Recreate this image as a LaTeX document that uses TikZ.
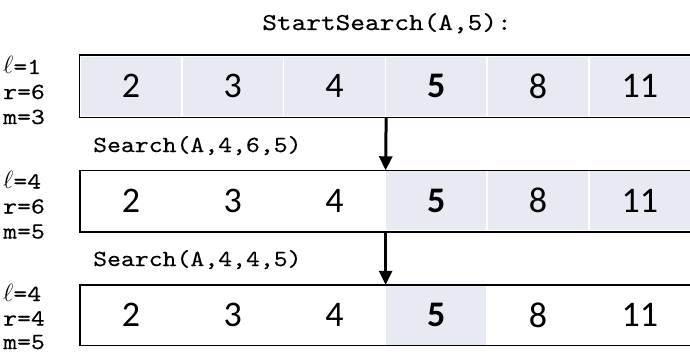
\documentclass[tikz,border=0pt]{standalone}
\usepackage{fontspec}
\setmonofont{lmmono10-regular.otf}[FakeStretch=1.15,FakeBold=0.3]
\newfontfamily\digitfont{Carlito}
\usetikzlibrary{arrows.meta}
\definecolor{shade}{RGB}{232,234,243}
\tikzset{
  cell/.style={minimum width=101.8pt, minimum height=60.5pt, inner sep=0pt, font=\digitfont\fontsize{36}{40}\selectfont},
  shaded/.style={fill=shade, draw=white, line width=1.5pt},
  frame/.style={draw=black, line width=1.5pt},
  down/.style={line width=3pt, -{Triangle[width=13pt,length=14pt]}},
  lab/.style={anchor=base west, inner sep=0pt, font=\ttfamily\fontsize{23}{26}\selectfont},
  call/.style={anchor=base west, inner sep=0pt, font=\ttfamily\fontsize{23}{26}\selectfont},
  title/.style={anchor=base, inner sep=0pt, font=\ttfamily\fontsize{24.3}{28}\selectfont}
}
\begin{document}
\begin{tikzpicture}[x=1pt, y=-1pt]
\useasboundingbox (0,0) rectangle (690,353);
\node[title] (t) at (387,30) {StartSearch(A,5):};
% row 1
\foreach \i/\v in {1/2,2/3,3/4,4/\textbf{5},5/8,6/11}{
  \node[cell, shaded] (a\i) at ({80+101.8*(\i-0.5)},86.25) {\v};
}
\draw[frame] (a1.north west) rectangle (a6.south east);
% row 2
\foreach \i/\v in {1/2,2/3,3/4}{
  \node[cell] (b\i) at ({80+101.8*(\i-0.5)},200.75) {\v};
}
\foreach \i/\v in {4/\textbf{5},5/8,6/11}{
  \node[cell, shaded] (b\i) at ({80+101.8*(\i-0.5)},200.75) {\v};
}
\draw[frame] (b1.north west) rectangle (b6.south east);
% row 3
\foreach \i/\v in {1/2,2/3,3/4,5/8,6/11}{
  \node[cell] (c\i) at ({80+101.8*(\i-0.5)},315.25) {\v};
}
\node[cell, shaded] (c4) at ({80+101.8*3.5},315.25) {\textbf{5}};
\draw[frame] (c1.north west) rectangle (c6.south east);
% arrows
\draw[down] (a3.south east) -- (b3.north east);
\draw[down] (b3.south east) -- (c3.north east);
% calls
\node[call] (s1) at (93,152) {Search(A,4,6,5)};
\node[call] (s2) at (93,266) {Search(A,4,4,5)};
% left labels
\node[lab] (l1) at (3,74) {$\ell$=1};
\node[lab] (r1) at (3,99) {r=6};
\node[lab] (m1) at (3,124) {m=3};
\node[lab] (l2) at (3,188.5) {$\ell$=4};
\node[lab] (r2) at (3,213.5) {r=6};
\node[lab] (m2) at (3,238.5) {m=5};
\node[lab] (l3) at (3,301) {$\ell$=4};
\node[lab] (r3) at (3,325.5) {r=4};
\node[lab] (m3) at (3,349) {m=5};
\end{tikzpicture}
\end{document}
